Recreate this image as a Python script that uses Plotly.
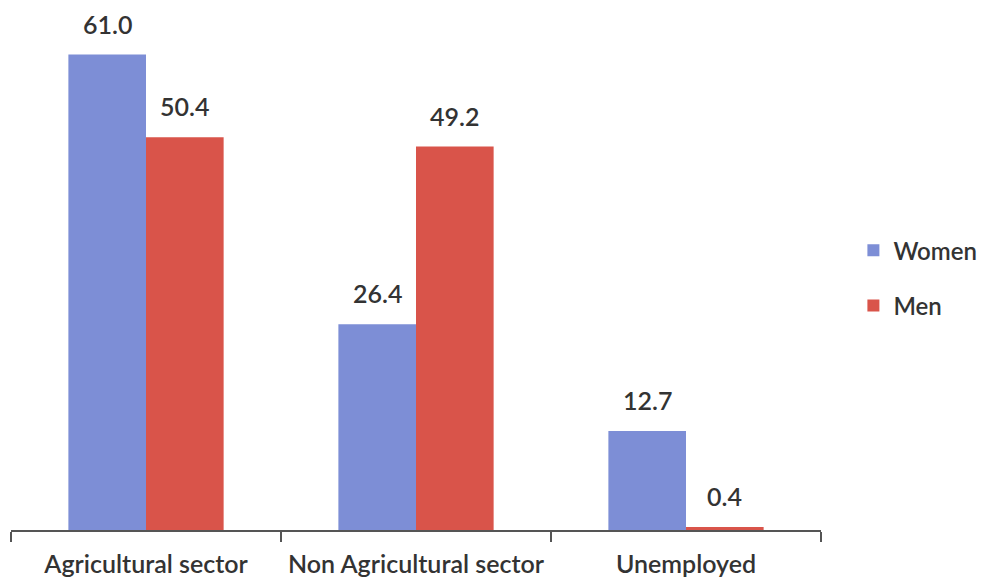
import plotly.graph_objects as go

categories = ["Agricultural sector", "Non Agricultural sector", "Unemployed"]
women = [61.0, 26.4, 12.7]
men = [50.4, 49.2, 0.4]

FONT = "Lato, 'Open Sans', sans-serif"
TEXT = "#333333"
BLUE = "#7d8ed6"
RED = "#d9544a"

# plot geometry
W, H = 987, 586
L_M, R_M, T_M, B_M = 11, 166, 0, 56
BARGAP = 0.425
Y_MAX = 68

fig = go.Figure()
fig.add_trace(go.Bar(name="Women", x=categories, y=women, legendgroup="w",
                     marker=dict(color=BLUE, line=dict(width=0))))
fig.add_trace(go.Bar(name="Men", x=categories, y=men, legendgroup="m",
                     marker=dict(color=RED, line=dict(width=0))))

# value labels sit above each bar, centred on it
cat_px = (W - L_M - R_M) / len(categories)
bar_px = cat_px * (1 - BARGAP) / 2
for series, shift in ((women, -bar_px / 2), (men, bar_px / 2)):
    for cat, v in zip(categories, series):
        fig.add_annotation(
            x=cat, y=v, xref="x", yref="y", text=f"{v:.1f}",
            showarrow=False, xshift=shift, yshift=14, yanchor="bottom",
            font=dict(family=FONT, size=25, color=TEXT, weight=600),
        )

fig.update_layout(
    width=W, height=H,
    margin=dict(l=L_M, r=R_M, t=T_M, b=B_M),
    paper_bgcolor="white", plot_bgcolor="white",
    barmode="group", bargap=BARGAP, bargroupgap=0,
    font=dict(family=FONT, size=20, color=TEXT),
    showlegend=True,
    legend=dict(x=1.04, y=0.475, xanchor="left", yanchor="middle",
                font=dict(family=FONT, size=24, color=TEXT, weight=600),
                tracegroupgap=21, itemwidth=30),
    xaxis=dict(showline=True, linecolor="#555555", linewidth=1.5,
               ticks="outside", tickson="boundaries", ticklen=10,
               tickcolor="#555555", tickwidth=1.5,
               tickfont=dict(family=FONT, size=25, color=TEXT, weight=600),
               ticklabelstandoff=11, showgrid=False),
    yaxis=dict(range=[0, Y_MAX], visible=False, showgrid=False, zeroline=False),
)

fig.write_html("out.html")
